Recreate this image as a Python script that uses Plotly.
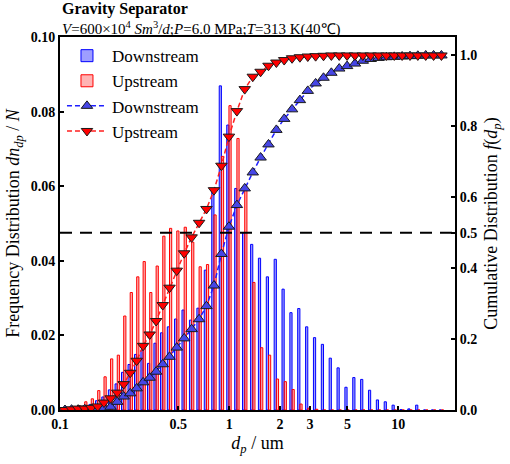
import numpy as np
import plotly.graph_objects as go

# Particle size classes (um) and measured distributions
size_um = [0.107, 0.117, 0.128, 0.140, 0.153, 0.167, 0.182, 0.199, 0.218, 0.238,
           0.260, 0.284, 0.310, 0.339, 0.370, 0.405, 0.444, 0.490, 0.542, 0.600,
           0.664, 0.734, 0.813, 0.900, 0.997, 1.111, 1.236, 1.379, 1.534, 1.708,
           1.901, 2.115, 2.354, 2.619, 2.916, 3.245, 3.612, 4.019, 4.473, 4.978,
           5.540, 6.166, 6.863, 7.638, 8.500, 9.461, 10.53, 11.72, 13.04, 14.52,
           16.16, 17.98]

freq_down = [0.0002, 0.0004, 0.0006, 0.0010, 0.0015, 0.0025, 0.0035, 0.0054, 0.0070, 0.0101,
             0.0122, 0.0149, 0.0160, 0.0125, 0.0179, 0.0207, 0.0223, 0.0244, 0.0268, 0.0241,
             0.0273, 0.0375, 0.0585, 0.0869, 0.0764, 0.0594, 0.0475, 0.0444, 0.0407, 0.0357,
             0.0404, 0.0324, 0.0261, 0.0272, 0.0223, 0.0194, 0.0176, 0.0139, 0.0113, 0.0061,
             0.0087, 0.0082, 0.0053, 0.0027, 0.0022, 0.0013, 0.0001, 0.0003, 0.0013, 0.0,
             0.0, 0.0]

freq_up = [0.0005, 0.0008, 0.0012, 0.0022, 0.0030, 0.0052, 0.0089, 0.0137, 0.0147, 0.0252,
           0.0315, 0.0357, 0.0398, 0.0315, 0.0386, 0.0466, 0.0487, 0.0480, 0.0490, 0.0450,
           0.0384, 0.0390, 0.0523, 0.0680, 0.0816, 0.0728, 0.0590, 0.0342, 0.0167, 0.0147,
           0.0083, 0.0076, 0.0055, 0.0016, 0.0005, 0.0002, 0.0, 0.0, 0.0, 0.0,
           0.0, 0.0, 0.0, 0.0, 0.0, 0.0, 0.0, 0.0, 0.0, 0.0,
           0.0, 0.0]

cum_down = [0.000, 0.001, 0.001, 0.002, 0.003, 0.004, 0.006, 0.009, 0.023, 0.038,
            0.047, 0.061, 0.078, 0.091, 0.108, 0.129, 0.150, 0.176, 0.202, 0.228,
            0.256, 0.293, 0.351, 0.440, 0.517, 0.578, 0.625, 0.670, 0.712, 0.749,
            0.790, 0.821, 0.848, 0.874, 0.900, 0.921, 0.937, 0.951, 0.963, 0.970,
            0.977, 0.985, 0.990, 0.993, 0.995, 0.996, 0.997, 0.998, 0.999, 1.000,
            1.000, 1.000]

cum_up = [0.000, 0.002, 0.004, 0.004, 0.006, 0.010, 0.021, 0.033, 0.049, 0.073,
          0.105, 0.139, 0.181, 0.213, 0.251, 0.296, 0.345, 0.393, 0.442, 0.487,
          0.528, 0.567, 0.620, 0.689, 0.771, 0.843, 0.905, 0.940, 0.954, 0.971,
          0.980, 0.987, 0.992, 0.995, 0.997, 0.998, 0.999, 1.000, 1.000, 1.000,
          1.000, 1.000, 1.000, 1.000, 1.000, 1.000, 1.000, 1.000, 1.000, 1.000,
          1.000, 1.000]

x_ticks = [0.1, 0.5, 1, 2, 3, 5, 10]
x_tick_text = ["0.1", "0.5", "1", "2", "3", "5", "10"]
freq_ticks = [0.0, 0.02, 0.04, 0.06, 0.08, 0.10]
cum_ticks = [0.0, 0.2, 0.4, 0.5, 0.6, 0.8, 1.0]

FONT = "Liberation Serif"
logd = np.log10(size_um)
bar_w = 0.013  # bar width in decades

fig = go.Figure()
fig.add_trace(go.Bar(
    x=logd, y=freq_down, width=bar_w, offset=-bar_w, name="Downstream",
    marker=dict(color="rgba(40,40,255,0.45)", line=dict(color="#0000ff", width=1)),
))
fig.add_trace(go.Bar(
    x=logd, y=freq_up, width=bar_w, offset=0, name="Upstream",
    marker=dict(color="rgba(255,40,40,0.35)", line=dict(color="#ff0000", width=1)),
))
fig.add_trace(go.Scatter(
    x=logd, y=cum_down, yaxis="y2", mode="lines+markers", name="Downstream",
    line=dict(color="#1f1fff", width=1.5, dash="5px,3px"),
    marker=dict(symbol="triangle-up", size=10, color="#4646e6",
                line=dict(color="#1a1a1a", width=1)),
))
fig.add_trace(go.Scatter(
    x=logd, y=cum_up, yaxis="y2", mode="lines+markers", name="Upstream",
    line=dict(color="#ff1f1f", width=1.5, dash="5px,3px"),
    marker=dict(symbol="triangle-down", size=10, color="#ff0000",
                line=dict(color="#1a1a1a", width=1)),
))

# 50 % reference line on the cumulative axis
fig.add_shape(type="line", xref="paper", x0=0, x1=1, yref="y2", y0=0.5, y1=0.5,
              line=dict(color="black", width=2, dash="12px,8px"))

tick_font = dict(family=FONT, size=14, color="black", weight="bold")
axis_common = dict(showline=True, linecolor="black", linewidth=2, ticks="inside",
                   ticklen=4, tickwidth=1.5, tickcolor="black", showgrid=False,
                   zeroline=False, tickfont=tick_font)

fig.update_layout(
    width=510, height=464,
    margin=dict(l=57, r=46, t=37, b=54),
    paper_bgcolor="white", plot_bgcolor="white",
    barmode="overlay",
    font=dict(family=FONT, color="black"),
    xaxis=dict(range=[-1.0, 1.335], tickvals=np.log10(x_ticks), ticktext=x_tick_text,
               mirror=True,
               title=dict(text="<i>d</i><sub><i>p</i></sub> / um",
                          font=dict(family=FONT, size=18), standoff=6),
               **axis_common),
    yaxis=dict(range=[0, 0.1], tickvals=freq_ticks,
               ticktext=[f"{v:.2f}" for v in freq_ticks],
               title=dict(text="Frequency Distribution <i>dn</i><sub><i>dp</i></sub> / <i>N</i>",
                          font=dict(family=FONT, size=18), standoff=6),
               **axis_common),
    yaxis2=dict(range=[0, 1.052], tickvals=cum_ticks,
                ticktext=[f"{v:.1f}" for v in cum_ticks],
                overlaying="y", side="right",
                title=dict(text="Cumulative Distribution <i>f</i>(<i>d</i><sub><i>p</i></sub>)",
                           font=dict(family=FONT, size=18), standoff=8),
                **axis_common),
    legend=dict(x=0.005, y=0.997, xanchor="left", yanchor="top",
                bgcolor="rgba(0,0,0,0)", font=dict(family=FONT, size=17),
                itemwidth=40, tracegroupgap=0),
    showlegend=True,
)

fig.add_annotation(text="<b>Gravity Separator</b>", xref="paper", yref="paper",
                   x=0.0, y=1.0755, xanchor="left", yanchor="middle", showarrow=False,
                   font=dict(family=FONT, size=16))
fig.add_annotation(text="<i>V</i>=600×10<sup>4</sup> <i>Sm</i><sup>3</sup>/<i>d</i>;"
                        "<i>P</i>=6.0 MPa;<i>T</i>=313 K(40℃)",
                   xref="paper", yref="paper", x=0.0, y=1.024, xanchor="left",
                   yanchor="middle", showarrow=False, font=dict(family=FONT, size=15))

fig.write_html("out.html")
